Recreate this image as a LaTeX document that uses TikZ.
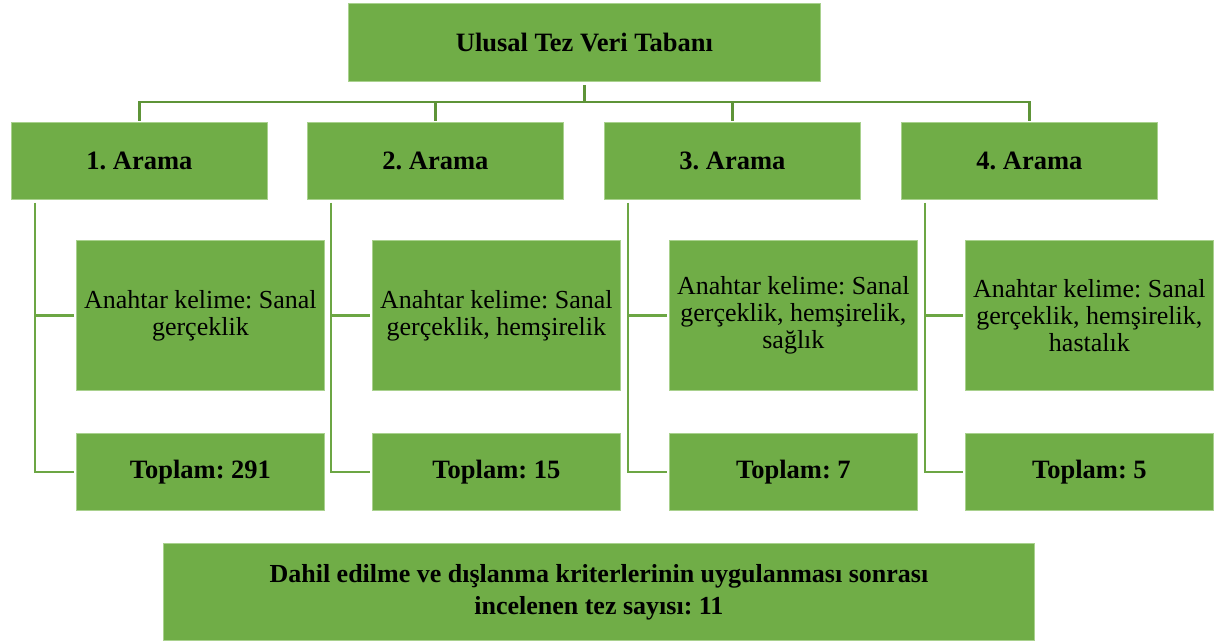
\documentclass[tikz,border=0pt]{standalone}
\usepackage{fontspec}
\setmainfont{Liberation Serif}
\usetikzlibrary{calc}
\definecolor{gfill}{HTML}{70AD47}
\definecolor{gline}{HTML}{A9D18E}
\definecolor{conA}{HTML}{5E9438}
\definecolor{conB}{HTML}{6CA644}
\tikzset{
  box/.style={draw=gline, line width=0.8pt, fill=gfill, inner sep=0pt, anchor=north west, align=center},
  bt/.style={font=\frenchspacing\fontsize{26.5}{29}\selectfont\bfseries},
  nt/.style={font=\frenchspacing\fontsize{26}{27}\selectfont},
  conn/.style={draw=conA, line width=2.2pt},
  conn2/.style={draw=conB, line width=2.2pt}
}
\begin{document}
\begin{tikzpicture}[x=1pt,y=-1pt]
\useasboundingbox (0,0) rectangle (1215,644);
% top
\node[box, bt, minimum width=472pt, minimum height=78pt] (top) at (348,3) {Ulusal Tez Veri Tabanı};
% level 2
\foreach \i/\x in {1/11, 2/307, 3/604, 4/901}{
  \node[box, bt, minimum width=256pt, minimum height=77pt] (a\i) at (\x,122) {\i. Arama};
}
% keyword boxes
\foreach \i/\x/\t in {1/76/{Anahtar kelime: Sanal\\gerçeklik},
                     2/372/{Anahtar kelime: Sanal\\gerçeklik, hemşirelik},
                     3/669/{Anahtar kelime: Sanal\\gerçeklik, hemşirelik,\\sağlık},
                     4/965/{Anahtar kelime: Sanal\\gerçeklik, hemşirelik,\\hastalık}}{
  \node[box, nt, minimum width=248pt, minimum height=150pt] (k\i) at (\x,240) {\t};
}
% total boxes
\foreach \i/\x/\n in {1/76/291, 2/372/15, 3/669/7, 4/965/5}{
  \node[box, bt, minimum width=248pt, minimum height=77pt] (t\i) at (\x,433) {Toplam: \n};
}
% bottom
\node[box, font=\frenchspacing\fontsize{26}{32}\selectfont\bfseries, minimum width=871pt, minimum height=97pt] (bot) at (163,543) {Dahil edilme ve dışlanma kriterlerinin uygulanması sonrası\\incelenen tez sayısı: 11};
% connectors top
\coordinate (hb) at ($(top.south)+(0,20.5)$);
\draw[conn] ($(top.south)+(0,3)$) -- (hb);
\foreach \i in {1,2,3,4}{
  \draw[conn] (hb) -| ($(a\i.north)+(0,-1)$);
}
% side connectors
\foreach \i in {1,2,3,4}{
  \coordinate (v\i) at ($(a\i.south west)+(24,3)$);
  \draw[conn2] (v\i) |- ($(t\i.west)+(-2,0)$);
  \draw[conn2] (v\i) |- ($(k\i.west)+(-2,0)$);
}
\end{tikzpicture}
\end{document}
